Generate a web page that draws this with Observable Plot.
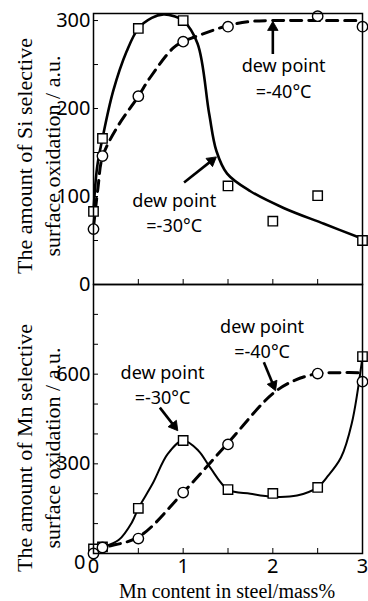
<!DOCTYPE html>
<html>
<head>
<meta charset="utf-8">
<script src="https://cdn.jsdelivr.net/npm/d3@7"></script>
<script src="https://cdn.jsdelivr.net/npm/@observablehq/plot@0.6"></script>
<style>
  html, body { margin: 0; padding: 0; background: white; }
  #wrap { position: relative; width: 368px; height: 601px; background: white; font-family: "Liberation Serif", "DejaVu Serif", serif; color: black; overflow: hidden; }
  .panel { position: absolute; left: 0; }
  .ytitle { position: absolute; white-space: nowrap; text-align: center; font-size: 22px; line-height: 28px; transform: translate(-50%, -50%) rotate(-90deg); }
  .xtitle { position: absolute; white-space: nowrap; font-size: 20px; transform: translate(-50%, -50%); }
</style>
</head>
<body>
<div id="wrap">
  <div id="top" class="panel" style="top:0"></div>
  <div id="bot" class="panel" style="top:283px"></div>
  <div class="ytitle" style="left:39px; top:156px">The amount of Si selective<br>surface oxidation / a.u.</div>
  <div class="ytitle" style="left:39px; top:448px">The amount of Mn selective<br>surface oxidation / a.u.</div>
  <div class="xtitle" style="left:227px; top:591px">Mn content in steel/mass%</div>
</div>
<script>
// ---- measured points ----
const mnContent = [0, 0.1, 0.5, 1, 1.5, 2, 2.5, 3];
const siDew30 = [83, 166, 291, 300, 112, 72, 101, 50];
const siDew40 = [63, 146, 214, 276, 293, null, 305, 293];
const mnDew30 = [15, 22, 151, 378, 214, 201, 221, 659];
const mnDew40 = [0, 20, 50, 204, 365, null, 602, 575];

// ---- fitted curves ----
const siFit30X = [0, 0.04, 0.1, 0.22, 0.37, 0.5, 0.65, 0.78, 0.9, 1.0, 1.16, 1.29, 1.37, 1.49, 1.75, 2.12, 2.57, 3.0];
const siFit30Y = [83, 133, 166, 220, 265, 291, 303, 307, 305, 300, 274, 194, 152, 126, 106, 87, 69, 52];
const siFit40X = [0, 0.05, 0.1, 0.26, 0.5, 0.63, 0.89, 1.0, 1.12, 1.49, 1.75, 2.0, 2.5, 3.0];
const siFit40Y = [65, 110, 145, 178, 214, 235, 269, 276, 281, 294, 299, 300, 300, 300];
const mnFit30X = [0, 0.1, 0.28, 0.43, 0.5, 0.66, 0.83, 1.0, 1.17, 1.3, 1.5, 1.75, 2.0, 2.27, 2.5, 2.6, 2.76, 2.88, 3.0];
const mnFit30Y = [15, 22, 45, 105, 151, 234, 334, 378, 344, 288, 214, 200, 190, 194, 221, 254, 321, 435, 659];
const mnFit40X = [0, 0.1, 0.5, 1.0, 1.5, 2.0, 2.25, 2.5, 2.75, 3.0];
const mnFit40Y = [0, 18, 55, 204, 370, 535, 580, 602, 605, 605];

// ---- ticks ----
const xTicks = [0, 1, 2, 3];
const xMinorTicks = [0.5, 1, 1.5, 2, 2.5];
const siYTicks = [0, 100, 200, 300];
const siYMinor = [50, 100, 150, 200, 250, 300];
const mnYTicks = [300, 600];
const mnYZero = [0];
const mnYMinor = [100, 200, 300, 400, 500, 600, 700, 800];

// ---- annotations ----
const siLabels = [
  {x: 2.12, y: 236, text: "dew point\n=-40°C"},
  {x: 0.9, y: 83, text: "dew point\n=-30°C"}
];
const siArrows = [
  {x1: 2.0, y1: 262, x2: 2.0, y2: 299},
  {x1: 1.01, y1: 116, x2: 1.37, y2: 145}
];
const mnLabels = [
  {x: 1.88, y: 722, text: "dew point\n=-40°C"},
  {x: 0.77, y: 569, text: "dew point\n=-30°C"}
];
const mnArrows = [
  {x1: 1.9, y1: 640, x2: 2.03, y2: 545},
  {x1: 0.74, y1: 488, x2: 0.94, y2: 411}
];

const pts = (xs, ys) => xs.map((x, i) => ({x, y: ys[i]})).filter(d => d.y != null);

function heads(arrows, chart) {
  if (!chart) return [];
  const sx = chart.scale("x"), sy = chart.scale("y");
  return arrows.map(a => {
    const px1 = sx.apply(a.x1), py1 = sy.apply(a.y1), px2 = sx.apply(a.x2), py2 = sy.apply(a.y2);
    const L = Math.hypot(px2 - px1, py2 - py1);
    const ux = (px2 - px1) / L, uy = (py2 - py1) / L;
    const back = 6;
    return {x1: a.x1, y1: a.y1, x: sx.invert(px2 - ux * back), y: sy.invert(py2 - uy * back), rotate: Math.atan2(ux, -uy) * 180 / Math.PI};
  });
}

function panel(o, chart) {
  const ph = o.height - o.marginTop - o.marginBottom;
  const pw = 368 - 93 - 6;
  const hd = heads(o.arrows, chart);
  const marks = [
    Plot.tickY(o.yMinor, {y: d => d, insetRight: pw - 5, stroke: "black", strokeWidth: 1}),
    Plot.tickX(xMinorTicks, {x: d => d, insetTop: ph - 5, stroke: "black", strokeWidth: 1}),
    Plot.axisY(o.yTicks, {tickSize: 0, tickPadding: 3, fontSize: 20, label: null}),
    Plot.line(pts(o.fit40X, o.fit40Y), {x: "x", y: "y", curve: "catmull-rom", stroke: "black", strokeWidth: o.w40, strokeDasharray: "11,7"}),
    Plot.line(pts(o.fit30X, o.fit30Y), {x: "x", y: "y", curve: "catmull-rom", stroke: "black", strokeWidth: o.w30}),
    Plot.dot(pts(mnContent, o.ys30), {x: "x", y: "y", symbol: "square", r: 5.3, fill: "white", stroke: "black", strokeWidth: 1.4}),
    Plot.dot(pts(mnContent, o.ys40), {x: "x", y: "y", symbol: "circle", r: 5.2, fill: "white", stroke: "black", strokeWidth: 1.4}),
    Plot.link(hd, {x1: "x1", y1: "y1", x2: "x", y2: "y", stroke: "black", strokeWidth: 2.6}),
    Plot.dot(hd, {x: "x", y: "y", rotate: "rotate", symbol: "triangle", r: 3.9, fill: "black", stroke: "black", strokeWidth: 0.8}),
    Plot.text(o.labels, {x: "x", y: "y", text: "text", fontSize: 18, lineHeight: 1.4, textAnchor: "middle", fill: "black"}),
    Plot.frame({stroke: "black", strokeWidth: 1.5})
  ];
  if (o.yZero) marks.push(Plot.axisY(o.yZero, {tickSize: 0, tickPadding: 8, dy: 9, fontSize: 20, label: null}));
  if (o.showX) marks.push(Plot.axisX(xTicks, {tickSize: 0, tickPadding: 5, fontSize: 20, label: null}));
  else marks.push(Plot.axisX([], {label: null}));
  return Plot.plot({
    width: 368,
    height: o.height,
    marginLeft: 93,
    marginRight: 6,
    marginTop: o.marginTop,
    marginBottom: o.marginBottom,
    style: {background: "transparent", overflow: "visible", color: "black"},
    x: {domain: [0, 3]},
    y: {domain: o.yDomain},
    marks
  });
}

const topOpts = {
  ys30: siDew30, ys40: siDew40,
  fit30X: siFit30X, fit30Y: siFit30Y, fit40X: siFit40X, fit40Y: siFit40Y,
  yDomain: [0, 308], yTicks: siYTicks, yMinor: siYMinor,
  labels: siLabels, arrows: siArrows,
  height: 285, marginTop: 13, marginBottom: 1, showX: false, w30: 2.6, w40: 3
};
const botOpts = {
  ys30: mnDew30, ys40: mnDew40,
  fit30X: mnFit30X, fit30Y: mnFit30Y, fit40X: mnFit40X, fit40Y: mnFit40Y,
  yDomain: [0, 900], yTicks: mnYTicks, yZero: mnYZero, yMinor: mnYMinor,
  labels: mnLabels, arrows: mnArrows,
  height: 318, marginTop: 1, marginBottom: 48, showX: true, w30: 2, w40: 3
};
document.getElementById("top").append(panel(topOpts, panel(topOpts, null)));
document.getElementById("bot").append(panel(botOpts, panel(botOpts, null)));
</script>
</body>
</html>
